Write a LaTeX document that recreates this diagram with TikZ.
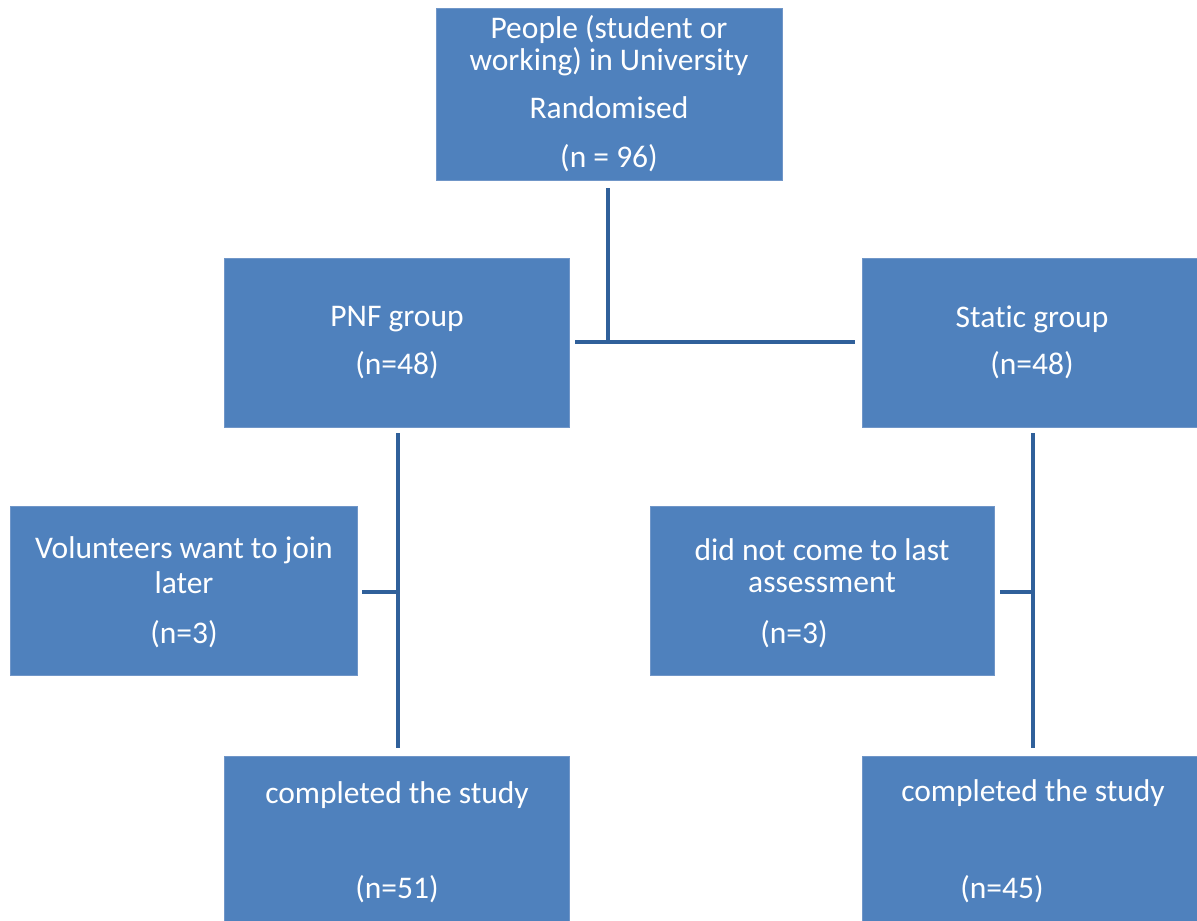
\documentclass[tikz,border=0pt]{standalone}
\usepackage{fontspec}
\setmainfont[Ligatures=NoCommon]{Carlito}
\definecolor{boxfill}{HTML}{4F81BD}
\definecolor{boxedge}{HTML}{7096C8}
\definecolor{linkcol}{HTML}{30609A}
\begin{document}
\begin{tikzpicture}[x=1pt,y=-1pt,
  box/.style={draw=boxedge,line width=1pt,fill=boxfill},
  txt/.style={text=white,inner sep=0pt,font=\fontsize{31.5}{36}\selectfont},
  link/.style={draw=linkcol,line width=4pt}]
\useasboundingbox (0,0) rectangle (1197,921);
% boxes
\filldraw[box] (436,8) rectangle (782,180);
\node[coordinate] (top) at (609,180) {};
\filldraw[box] (224,258) rectangle (569,427);
\node[coordinate] (pnfE) at (569,342) {};
\node[coordinate] (pnfS) at (398,427) {};
\filldraw[box] (862,258) rectangle (1200,427);
\node[coordinate] (staW) at (862,342) {};
\node[coordinate] (staS) at (1033,427) {};
\filldraw[box] (10,506) rectangle (357,675);
\node[coordinate] (volE) at (357,592) {};
\filldraw[box] (650,506) rectangle (994,675);
\node[coordinate] (didE) at (994,592) {};
\filldraw[box] (224,756) rectangle (569,925);
\node[coordinate] (comLN) at (398,756) {};
\filldraw[box] (862,756) rectangle (1200,925);
\node[coordinate] (comRN) at (1033,756) {};
% texts
\node[txt] (t1) at (609,30) {People (student or};
\node[txt] (t2) at (609,62) {working) in University};
\node[txt] (t3) at (609,108) {Randomised};
\node[txt] (t4) at (609,158) {(n = 96)};
\node[txt] (p1) at (397,319) {PNF group};
\node[txt] (p2) at (397,365) {(n=48)};
\node[txt] (s1) at (1032,319) {Static group};
\node[txt] (s2) at (1032,365) {(n=48)};
\node[txt] (v1) at (184,550) {Volunteers want to join};
\node[txt] (v2) at (184,583) {later};
\node[txt] (v3) at (184,634) {(n=3)};
\node[txt] (d1) at (822,550) {did not come to last};
\node[txt] (d2) at (822,583) {assessment};
\node[txt] (d3) at (794,634) {(n=3)};
\node[txt] (c1) at (397,795) {completed the study};
\node[txt] (c2) at (397,889) {(n=51)};
\node[txt] (c3) at (1033,793) {completed the study};
\node[txt] (c4) at (1002,889) {(n=45)};
% junctions
\coordinate (j1) at (608,342);
\coordinate (jl) at (398,592);
\coordinate (jr) at (1033,592);
% connectors
\draw[link] ([yshift=-8]top.center -| j1) -- (j1);
\draw[link] ([xshift=6]pnfE) -- ([xshift=-7]staW);
\draw[link] ([yshift=-6]pnfS) -- ([yshift=8]comLN);
\draw[link] ([xshift=5]volE) -- (jl);
\draw[link] ([yshift=-6]staS) -- ([yshift=8]comRN);
\draw[link] ([xshift=6]didE) -- (jr);
\end{tikzpicture}
\end{document}
